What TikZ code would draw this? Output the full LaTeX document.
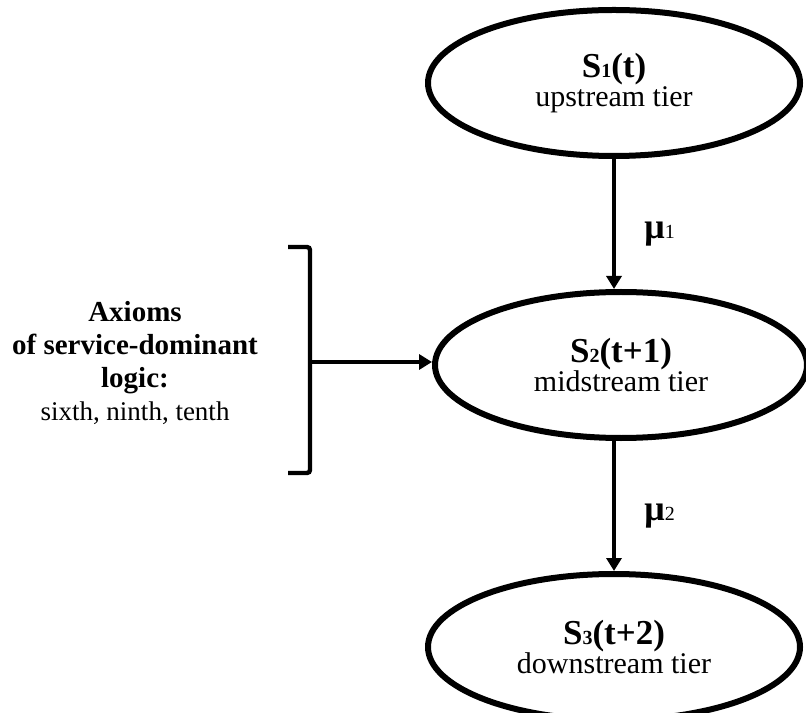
\documentclass[tikz,border=0pt]{standalone}
\usepackage{fontspec}
\setmainfont{Liberation Serif}
\usetikzlibrary{arrows.meta, positioning, calc, shapes.geometric}
\newcommand{\tieridx}[1]{{\fontsize{10}{10}\selectfont #1}}
\newcommand{\rateidx}[1]{{\fontsize{10}{10}\selectfont\mdseries #1}}

\begin{document}
\begin{tikzpicture}[x=0.5pt, y=0.5pt,
  %% ── node styles ──────────────────────────────────────────────────────────
  tier/.style = {ellipse, draw=black, line width=3pt,
                 minimum width=186pt, minimum height=73pt,
                 inner sep=0pt, align=center,
                 font=\fontsize{15}{14.5}\selectfont},
  ann/.style  = {align=center, inner sep=0pt,
                 font=\fontsize{14.5}{16.5}\selectfont},
  lab/.style  = {inner sep=0pt, font=\fontsize{18}{18}\selectfont\bfseries},
  %% ── arrow / bracket styles ──────────────────────────────────────────────
  arr/.style   = {-{Triangle[length=6.5pt,width=7.5pt]}, line width=2.4pt},
  bline/.style = {line width=2.2pt, rounded corners=1.5pt},
]
\useasboundingbox (0,0) rectangle (806,712);

%% ═══════════════════════════════════════════════════════════════════════════
%% TIERS  (top to bottom)
%% ═══════════════════════════════════════════════════════════════════════════
\node[tier] (top) at (614,629)
      {{\fontsize{17.5}{14.5}\selectfont\bfseries S\tieridx{1}(t)}\\upstream tier};
\node[tier, below=65pt of top, xshift=3.5pt] (mid)
      {{\fontsize{17.5}{14.5}\selectfont\bfseries S\tieridx{2}(t+1)}\\midstream tier};
\node[tier, below=65pt of mid, xshift=-3.5pt] (bot)
      {{\fontsize{17.5}{14.5}\selectfont\bfseries S\tieridx{3}(t+2)}\\downstream tier};

%% ── flows between tiers ──────────────────────────────────────────────────
\draw[arr] (top.south) -- (top.south |- mid.north);
\draw[arr] (bot.north |- mid.south) -- (bot.north);

\node[lab, right=15pt, yshift=-5pt] (mua)
      at ($(top.south)!0.5!(top.south |- mid.north)$) {μ\rateidx{1}};
\node[lab, right=15pt, yshift=-5pt] (mub)
      at ($(bot.north |- mid.south)!0.5!(bot.north)$) {μ\rateidx{2}};

%% ═══════════════════════════════════════════════════════════════════════════
%% AXIOMS + BRACKET (left)
%% ═══════════════════════════════════════════════════════════════════════════
\node[ann] (axioms) at (135,349)
      {{\bfseries Axioms}\\{\bfseries of service-dominant}\\{\bfseries logic:}\\
       {\fontsize{13.5}{16.5}\selectfont sixth, ninth, tenth}};

\coordinate (brk)  at (310,350);
\coordinate (brkt) at (288,465);
\coordinate (brkb) at (288,239);
\draw[bline] (brkt) -- (brkt -| brk) -- (brkb -| brk) -- (brkb);
\draw[arr] (brk) -- (brk -| mid.west);

\end{tikzpicture}
\end{document}
